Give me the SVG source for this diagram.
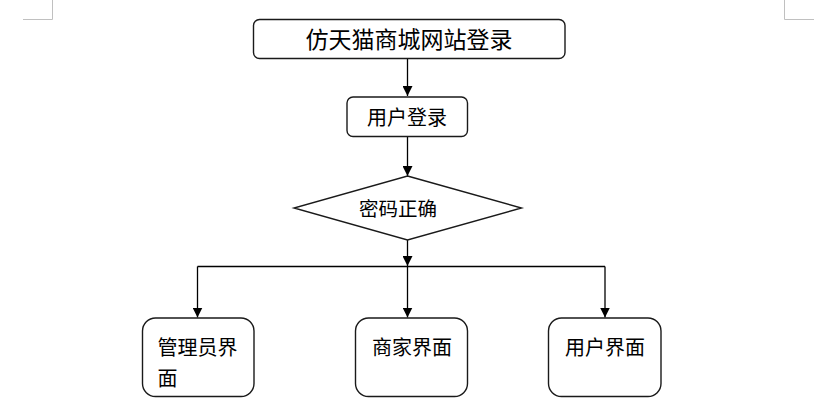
<svg xmlns="http://www.w3.org/2000/svg" width="821" height="405" viewBox="0 0 821 405">
<style>
  .node { fill: #ffffff; stroke: #1a1a1a; stroke-width: 1.4; }
  .lbl { font-family: "Noto Sans CJK SC", "Liberation Serif", serif; fill: #000000; dominant-baseline: central; }
  .conn { stroke: #000000; stroke-width: 1.3; fill: none; }
  .mark { stroke: #c0c0c0; stroke-width: 1; fill: none; }
</style>
<defs>
  <marker id="arrow" markerUnits="userSpaceOnUse" markerWidth="10" markerHeight="10" refX="10" refY="5" orient="auto">
    <path d="M0,0 L10,5 L0,10 Z" fill="#000000"/>
  </marker>
</defs>
<rect width="821" height="405" fill="#ffffff"/>
<g id="crop-marks">
  <path class="mark" d="M52.5,0 V19.5 H23"/>
  <path class="mark" d="M784.5,0 V19.5 H814"/>
</g>
<g id="connectors">
  <line class="conn" x1="407.5" y1="58.5" x2="407.5" y2="96" marker-end="url(#arrow)"/>
  <line class="conn" x1="407.5" y1="136.5" x2="407.5" y2="176" marker-end="url(#arrow)"/>
  <line class="conn" x1="407.5" y1="240" x2="407.5" y2="266" marker-end="url(#arrow)"/>
  <line class="conn" x1="197.5" y1="266.5" x2="605" y2="266.5"/>
  <line class="conn" x1="197.5" y1="266.5" x2="197.5" y2="317.5" marker-end="url(#arrow)"/>
  <line class="conn" x1="407.5" y1="266.5" x2="407.5" y2="317.5" marker-end="url(#arrow)"/>
  <line class="conn" x1="605" y1="266.5" x2="605" y2="317.5" marker-end="url(#arrow)"/>
</g>
<g id="node-title">
  <rect class="node" x="253.5" y="19.5" width="311.5" height="39" rx="6"/>
  <text class="lbl" x="409" y="37.5" font-size="23" text-anchor="middle">仿天猫商城网站登录</text>
</g>
<g id="node-login">
  <rect class="node" x="347" y="97" width="120.5" height="39.5" rx="6"/>
  <text class="lbl" x="407" y="116.5" font-size="20" text-anchor="middle">用户登录</text>
</g>
<g id="node-check">
  <polygon class="node" points="407.5,176 521.5,208 407.5,240 294,208"/>
  <text class="lbl" x="398" y="207" font-size="19.5" text-anchor="middle">密码正确</text>
</g>
<g id="node-admin">
  <rect class="node" x="142.5" y="318" width="111.5" height="78.5" rx="13"/>
  <text class="lbl" x="157.5" y="346.5" font-size="20">管理员界</text>
  <text class="lbl" x="157.5" y="377.5" font-size="20">面</text>
</g>
<g id="node-merchant">
  <rect class="node" x="355.5" y="318" width="112" height="78.5" rx="13"/>
  <text class="lbl" x="372" y="346.5" font-size="20">商家界面</text>
</g>
<g id="node-user">
  <rect class="node" x="548.5" y="318" width="112.5" height="78.5" rx="13"/>
  <text class="lbl" x="565" y="346.5" font-size="20">用户界面</text>
</g>
</svg>
